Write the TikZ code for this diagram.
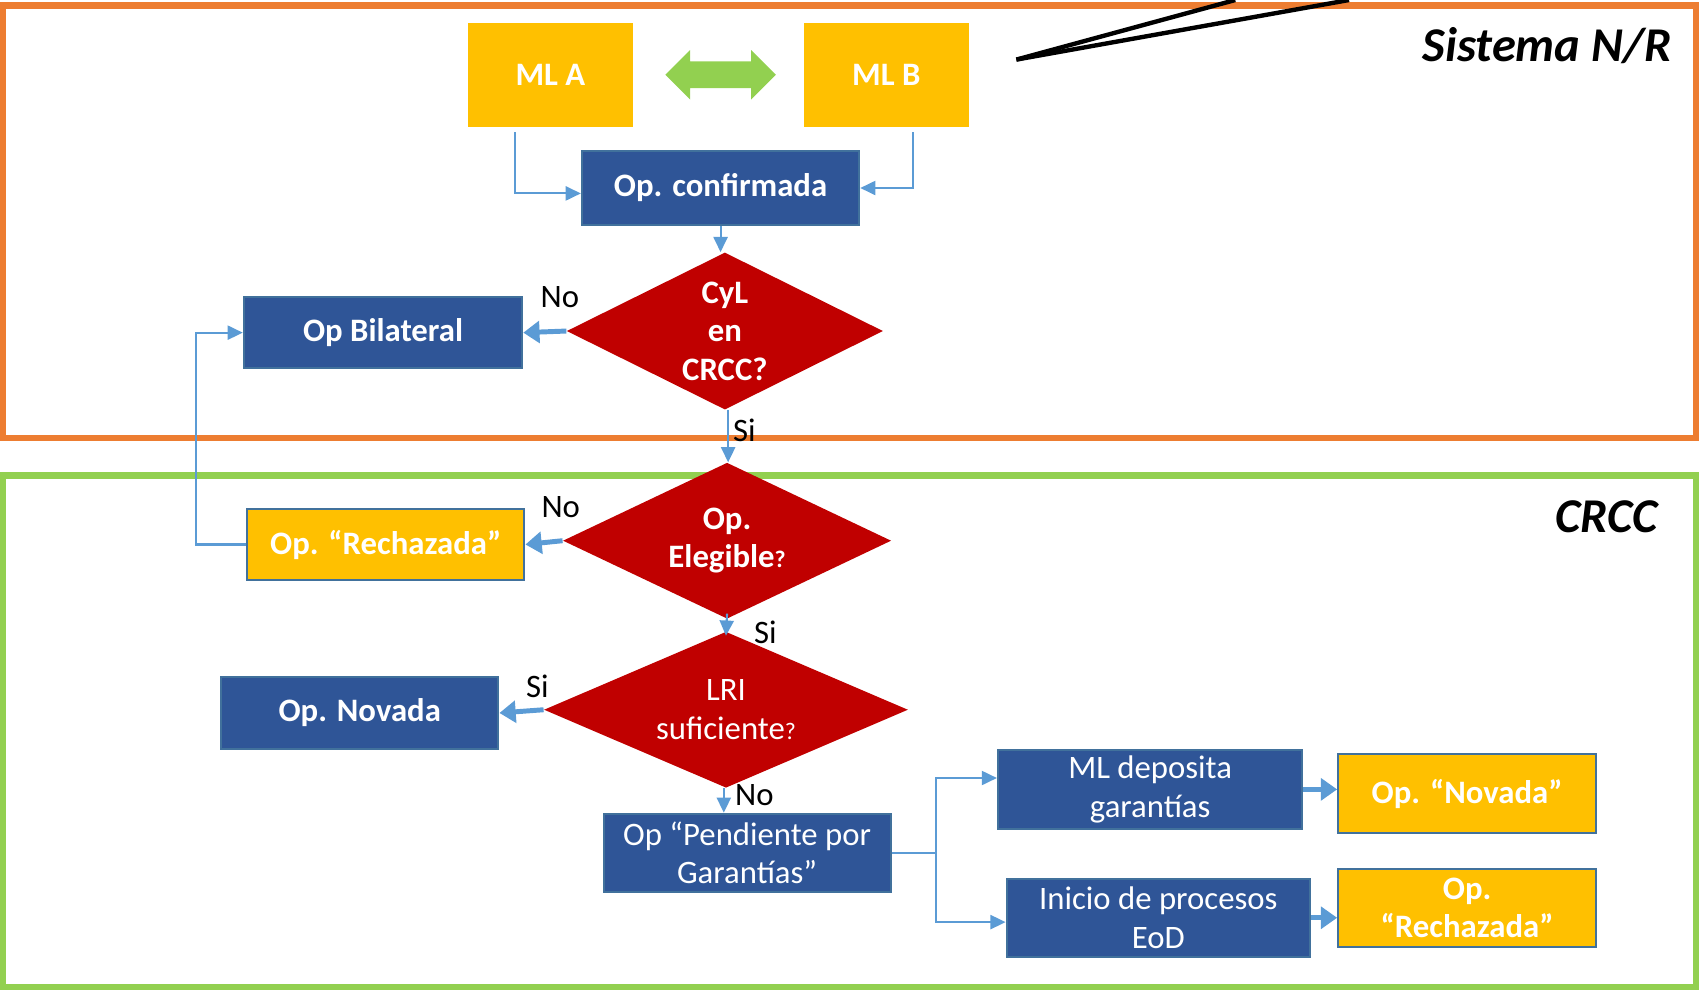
\documentclass[tikz,border=0pt]{standalone}
\usepackage{fontspec}
\setmainfont{Carlito}
\usetikzlibrary{shapes.geometric,shapes.arrows,arrows.meta}

\definecolor{gold}{HTML}{FFC000}
\definecolor{navy}{HTML}{2F5597}
\definecolor{navyline}{HTML}{41719C}
\definecolor{crimson}{HTML}{C00000}
\definecolor{sky}{HTML}{5B9BD5}
\definecolor{leaf}{HTML}{92D050}
\definecolor{tangerine}{HTML}{ED7D31}

\newcommand\boxfont{\fontsize{17.2}{20.2}\selectfont}
\newcommand\zonefont{\fontsize{25.5}{30}\selectfont\bfseries\itshape}
\newcommand\smallq{{\fontsize{12.5}{14}\selectfont ?}}

\tikzset{
  box/.style={rectangle, fill=navy, draw=navyline, line width=1.1pt, text=white,
    align=center, inner sep=0pt, font=\boxfont},
  goldbox/.style={box, fill=gold},
  decision/.style={diamond, fill=crimson, text=white, align=center, inner sep=0pt,
    font=\boxfont},
  conn/.style={draw=sky, line width=1.1pt, -{Triangle[length=0.28cm,width=0.26cm]}},
  thickconn/.style={draw=sky, line width=2.6pt, -{Triangle[length=0.3cm,width=0.4cm]}},
  lbl/.style={text=black, font=\boxfont, inner sep=2pt},
}

\begin{document}
\begin{tikzpicture}[x=0.02cm, y=-0.02cm]
  \useasboundingbox (0,0) rectangle (1568,914);

  % zones
  \draw[tangerine, line width=3.4pt] (3,5) rectangle (1565,404);
  \draw[leaf, line width=3.4pt] (3,439) rectangle (1565,911);
  \node[anchor=east, font=\zonefont] (sysnr) at (1549,42) {Sistema N/R};
  \node[anchor=east, font=\zonefont] (crcc) at (1536,477) {CRCC};

  \coordinate (tip) at (938,55);
  \draw[line width=2.3pt] (tip) -- (1140,0);
  \draw[line width=2.3pt] (tip) -- (1245,0);

  % members
  \begin{scope}[every node/.style={goldbox, draw=none, minimum width=3.04cm, minimum height=1.92cm, font=\boxfont\bfseries}]
    \node (mla) at (508,69) {ML A};
    \node (mlb) at (818,69) {ML B};
  \end{scope}
  \node[double arrow, fill=leaf, inner sep=0.24cm, minimum height=2.04cm, minimum width=0.9cm,
    double arrow head extend=0.21cm] (swap) at (665,69) {};

  % boxes
  \node[box, font=\boxfont\bfseries, minimum width=5.12cm, minimum height=1.38cm] (conf) at (665,173.5) {Op. confirmada};
  \node[box, font=\boxfont\bfseries, minimum width=5.14cm, minimum height=1.32cm] (bilat) at (353.5,307) {Op Bilateral};
  \node[goldbox, font=\boxfont\bfseries, minimum width=5.12cm, minimum height=1.3cm] (rech) at (356,502.5) {Op. “Rechazada”};
  \node[box, font=\boxfont\bfseries, minimum width=5.12cm, minimum height=1.32cm] (novada) at (332,658) {Op. Novada};
  \node[box, minimum width=5.3cm, minimum height=1.44cm] (pend) at (689.5,787) {Op “Pendiente por\\Garantías”};
  \node[box, minimum width=5.62cm, minimum height=1.46cm] (depos) at (1061.5,728.5) {ML deposita\\garantías};
  \node[box, minimum width=5.6cm, minimum height=1.44cm] (eod) at (1069,847) {Inicio de procesos\\EoD};
  \node[goldbox, font=\boxfont\bfseries, minimum width=4.76cm, minimum height=1.46cm] (novfin) at (1354,732.5) {Op. “Novada”};
  \node[goldbox, font=\boxfont\bfseries, minimum width=4.76cm, minimum height=1.44cm] (rechfin) at (1354,838) {Op.\\“Rechazada”};

  % decisions
  \node[decision, font=\boxfont\bfseries, shape aspect=2, minimum width=5.84cm, minimum height=2.9cm] (cyl) at (669,305.5) {CyL\\en\\CRCC?};
  \node[decision, font=\boxfont\bfseries, shape aspect=2.1, minimum width=6.06cm, minimum height=2.88cm] (elig) at (671,499) {Op.\\Elegible\smallq};
  \node[decision, shape aspect=2.3, minimum width=6.72cm, minimum height=2.88cm] (lri) at (670,655) {LRI\\suficiente\smallq};

  % connectors
  \begin{scope}[every node/.style={lbl}]
    \path ([xshift=-0.66cm,yshift=-0.08cm]mla.south) edge[conn, to path={|- (\tikztotarget)}] ([yshift=-0.1cm]conf.west);
    \path ([xshift=0.5cm,yshift=-0.08cm]mlb.south) edge[conn, to path={|- (\tikztotarget)}] (conf.east);
    \path (conf.south) edge[conn] (conf.south |- cyl.north);
    \path (cyl.west) edge[thickconn] node[pos=.15, above=9pt] {No} (bilat.east);
    \path ([xshift=0.06cm]cyl.south) edge[conn] node[right, yshift=3pt] {Si} ([xshift=0.06cm]cyl.south |- elig.north);
    \path (elig.west) edge[thickconn] node[pos=.05, above=9pt] {No} (rech.east);
    \path (rech.west) edge[conn, to path={-- ++(-46,0) |- (\tikztotarget)}] (bilat.west);
    \path ([yshift=0.1cm]elig.south) edge[conn] node[right, xshift=0.42cm, yshift=-4pt] {Si} ([yshift=-0.08cm]lri.north);
    \path (lri.west) edge[thickconn] node[pos=.14, above=3pt] {Si} (novada.east);
    \path ([xshift=-0.04cm]lri.south) edge[conn] node[right, xshift=0.12cm, yshift=3pt] {No} ([xshift=-0.04cm]lri.south |- pend.north);
    \path (pend.east) edge[draw=sky, line width=1pt] ++(41,0);
    \coordinate (split) at ([xshift=0.82cm]pend.east);
    \path (split) edge[conn, to path={|- (\tikztotarget)}] ([yshift=0.21cm]depos.west);
    \path (split) edge[conn, to path={|- (\tikztotarget)}] ([yshift=-0.08cm]eod.west);
    \path (depos.east) edge[thickconn] (depos.east -| novfin.west);
    \path (eod.east) edge[thickconn] (eod.east -| rechfin.west);
  \end{scope}

\end{tikzpicture}
\end{document}
